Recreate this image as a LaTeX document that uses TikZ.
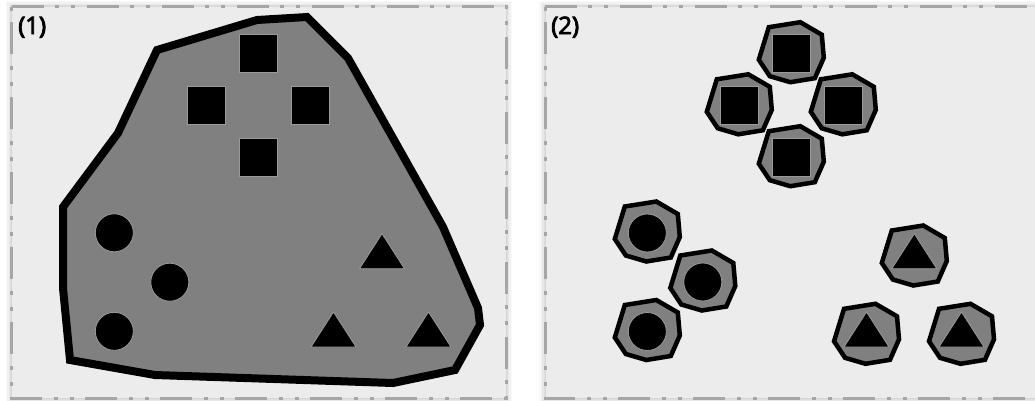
\documentclass[tikz,border=0pt]{standalone}
\usepackage{fontspec}
\setmainfont{Open Sans}
\newfontfamily\lblfont{Open Sans}[FakeBold=3.5]
\definecolor{panelbg}{HTML}{ECECEC}
\definecolor{framegray}{HTML}{A6A6A6}
\definecolor{edgegray}{HTML}{D6D6D6}
\definecolor{hullgray}{HTML}{808080}
\definecolor{thingray}{HTML}{9A9A9A}
\begin{document}
\begin{tikzpicture}[x=1pt,y=-1pt,
  panelfill/.style={fill=panelbg, draw=edgegray, line width=0.8pt},
  panelframe/.style={draw=framegray, line width=3pt,
    dash pattern=on 32pt off 11pt on 4pt off 12pt on 4pt off 12pt},
  bighull/.style={fill=hullgray, draw=black, line width=8pt, line join=miter},
  smallhull/.style={fill=hullgray, draw=black, line width=4.5pt, line join=miter},
  sq/.style={rectangle, fill=black, draw=thingray, line width=0.8pt, minimum size=38pt, inner sep=0pt},
  dot/.style={circle, fill=black, draw=thingray, line width=0.8pt, minimum size=38pt, inner sep=0pt},
  tri/.style={fill=black, draw=thingray, line width=0.8pt},
  lbl/.style={font=\lblfont\fontsize{24}{28}\selectfont, inner sep=0pt, anchor=base west},
  hull/.pic={\path[smallhull] (-22.5,-26.5) -- (9,-31.5) -- (30.5,-19) -- (32.5,4) -- (23.5,24.5) -- (-1,28.5) -- (-21.5,22.5) -- (-32.5,6) -- cycle;}
]
\useasboundingbox (0,0) rectangle (1035,400);
\fill[white] (0,0) rectangle (1035,400);

% soft shadows
\foreach \d/\o in {6/0.025,4.5/0.03,3/0.035,1.5/0.04}{
  \fill[black, opacity=\o] (11.7-\d,6.7-\d) rectangle (506+\d,398.3+\d);
  \fill[black, opacity=\o] (545-\d,6.7-\d) rectangle (1039.3+\d,398.3+\d);
}

% panels
\path[panelfill] (11.7,6.7) rectangle (506,398.3);
\path[panelfill] (545,6.7) rectangle (1039.3,398.3);
\draw[panelframe] (11.7,6.7) -- (506,6.7) -- (506,398.3) -- (11.7,398.3) -- cycle;
\draw[panelframe] (545,6.7) -- (1039.3,6.7) -- (1039.3,398.3) -- (545,398.3) -- cycle;

\node[lbl] (l1) at (18,34) {(1)};
\node[lbl] (l2) at (551,34) {(2)};

% ---------- panel 1 ----------
\path[bighull] (157,50) -- (257,20) -- (307,17) -- (348,58) -- (443,227) -- (478,308) -- (480,325)
  -- (455,370) -- (393,383) -- (155,375) -- (70,360) -- (63,288) -- (63,207) -- (118,133) -- cycle;

\node[sq] (s1) at (258,53.7) {};
\node[sq] (s2) at (206,105.8) {};
\node[sq] (s3) at (310,105.8) {};
\node[sq] (s4) at (258,157.7) {};

\node[dot] (c1) at (114.3,232.8) {};
\node[dot] (c2) at (169.8,282.2) {};
\node[dot] (c3) at (114.3,331.3) {};

\foreach \cx/\cy in {382/257, 333.5/335.3, 428.5/335.3}{
  \path[tri] (\cx,\cy-23.3) -- (\cx+22.5,\cy+11.7) -- (\cx-22.5,\cy+11.7) -- cycle;
}

% ---------- panel 2 ----------
\foreach \cx/\cy in {791.3/53.7, 739.3/105.8, 843.3/105.8, 791.3/157.7,
                     647.3/233, 702.8/282, 647.3/331.5,
                     914.3/257, 866.5/335.3, 961.5/335.3}{
  \pic at (\cx,\cy) {hull};
}

\node[sq] (t1) at (791.3,53.7) {};
\node[sq] (t2) at (739.3,105.8) {};
\node[sq] (t3) at (843.3,105.8) {};
\node[sq] (t4) at (791.3,157.7) {};

\node[dot] (d1) at (647.3,233) {};
\node[dot] (d2) at (702.8,282) {};
\node[dot] (d3) at (647.3,331.5) {};

\foreach \cx/\cy in {914.3/257, 866.5/335.3, 961.5/335.3}{
  \path[tri] (\cx,\cy-23.3) -- (\cx+22.5,\cy+11.7) -- (\cx-22.5,\cy+11.7) -- cycle;
}
\end{tikzpicture}
\end{document}
